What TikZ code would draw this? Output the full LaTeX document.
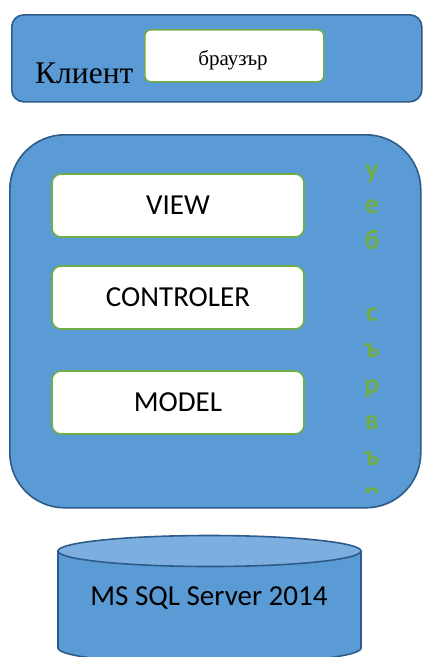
\documentclass[tikz,border=0pt]{standalone}
\usepackage{fontspec}
\setmainfont{Carlito}
\newfontfamily\serifcyr{Liberation Serif}
\definecolor{boxblue}{HTML}{5B9BD5}
\definecolor{edgeblue}{HTML}{2E5C8A}
\definecolor{topblue}{HTML}{7DAEE0}
\definecolor{leafgreen}{HTML}{70AD47}
\begin{document}
\begin{tikzpicture}[x=1pt,y=-1pt,
  panel/.style={draw=edgeblue, fill=boxblue, line width=1.6pt, inner sep=0pt, anchor=north west},
  layer/.style={draw=leafgreen, fill=white, line width=1.6pt, rounded corners=9pt,
    minimum width=252pt, minimum height=63pt, inner sep=0pt,
    font=\fontsize{29}{34}\selectfont},
  vletter/.style={anchor=base, inner sep=0pt, text=leafgreen, font=\bfseries\fontsize{28}{34}\selectfont},
]
\useasboundingbox (0,0) rectangle (423,657);

% client tier
\node[panel, rounded corners=12pt, minimum width=410pt, minimum height=87pt] (client) at (11,14) {};
\node[anchor=base west, inner sep=0pt, font=\serifcyr\fontsize{31.5}{36}\selectfont] (clientlabel) at (35,83) {Клиент};
\node[layer, rounded corners=6pt, minimum width=179pt, minimum height=52pt, anchor=north west] (browser) at (144,29) {};
\node[anchor=base, inner sep=0pt, font=\serifcyr\fontsize{21}{25}\selectfont] (browserlabel) at (233,65) {браузър};

% application server with MVC layers
\node[panel, rounded corners=55pt, minimum width=411pt, minimum height=373pt] (server) at (9,134) {};
\node[layer] (view) at (178,205.5) {VIEW};
\node[layer] (controler) at (178,297.5) {CONTROLER};
\node[layer] (model) at (178,402.5) {MODEL};

% vertical caption, cut off at the bottom of its text frame
\begin{scope}
  \clip (330,140) rectangle (420,492);
  \foreach \ch/\i in {у/0,е/1,б/2,с/4,ъ/5,р/6,в/7,ъ/8,р/9}
    \node[vletter] (ws\i) at (372,178+\i*35.9) {\ch};
\end{scope}

% database cylinder
\path[draw=edgeblue, fill=boxblue, line width=1.6pt]
  (58,551) -- (58,648) arc[start angle=180, end angle=0, x radius=151.5, y radius=16] -- (361,551);
\draw[edgeblue, fill=topblue, line width=1.6pt] (209.5,551) ellipse [x radius=151.5, y radius=15.5];
\node[anchor=base, inner sep=0pt, font=\fontsize{29}{34}\selectfont] (db) at (209,605) {MS SQL Server 2014};
\end{tikzpicture}
\end{document}
